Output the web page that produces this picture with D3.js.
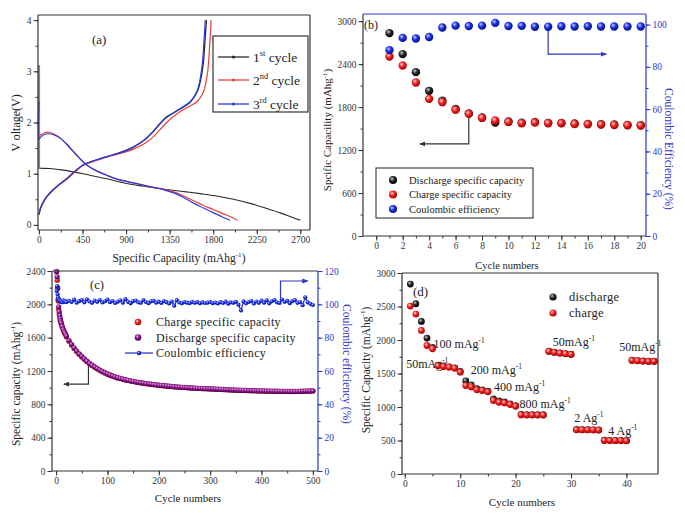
<!DOCTYPE html>
<html>
<head>
<meta charset="utf-8">
<script src="https://cdn.jsdelivr.net/npm/d3@7"></script>
<style>
  body { margin: 0; background: #fff; }
  svg { font-family: "Liberation Serif", "Times New Roman", serif; }
</style>
</head>
<body>
<svg id="fig" width="685" height="524"></svg>
<script>
// ---- panel (a): voltage profiles, [capacity mAh/g, voltage V]
const dis1 = [[0,3.12],[0,1.12],[5,1.11],[110,1.1],[250,1.07],[456,1.0],[700,0.9],[905,0.81],[1100,0.75],[1319,0.69],[1500,0.65],[1664,0.61],[1850,0.56],[2010,0.5],[2200,0.41],[2355,0.32],[2500,0.23],[2600,0.16],[2700,0.09]];
const chg1 = [[0,0.2],[20,0.34],[60,0.49],[110,0.61],[200,0.77],[283,0.89],[370,1.04],[456,1.17],[550,1.24],[628,1.29],[750,1.36],[905,1.46],[1000,1.55],[1100,1.68],[1181,1.83],[1250,1.98],[1319,2.11],[1400,2.2],[1480,2.29],[1560,2.39],[1635,2.6],[1672,2.85],[1700,3.2],[1715,3.6],[1730,4.0]];
const dis2 = [[0,1.72],[20,1.76],[60,1.8],[100,1.81],[150,1.78],[220,1.7],[283,1.59],[350,1.45],[420,1.3],[500,1.16],[600,1.05],[700,0.97],[800,0.9],[905,0.85],[1000,0.81],[1146,0.75],[1300,0.69],[1400,0.64],[1500,0.56],[1600,0.47],[1700,0.38],[1800,0.3],[1900,0.22],[2000,0.14],[2050,0.09]];
const chg2 = [[0,0.22],[20,0.36],[60,0.5],[110,0.62],[200,0.77],[283,0.88],[370,1.03],[456,1.16],[550,1.23],[628,1.28],[750,1.35],[905,1.43],[1000,1.5],[1100,1.6],[1181,1.72],[1250,1.86],[1319,2.0],[1400,2.13],[1480,2.24],[1560,2.32],[1640,2.42],[1700,2.6],[1740,2.95],[1760,3.4],[1778,4.0]];
const dis3 = [[0,2.4],[3,1.68],[20,1.72],[60,1.77],[100,1.78],[150,1.76],[220,1.69],[283,1.58],[350,1.44],[420,1.3],[500,1.16],[600,1.05],[700,0.97],[800,0.9],[905,0.85],[1000,0.81],[1146,0.75],[1300,0.68],[1400,0.62],[1500,0.53],[1600,0.42],[1700,0.33],[1800,0.24],[1900,0.15],[1975,0.09]];
const chg3 = [[0,0.2],[20,0.35],[60,0.5],[110,0.62],[200,0.78],[283,0.9],[370,1.05],[456,1.17],[550,1.24],[628,1.29],[750,1.36],[905,1.45],[1000,1.54],[1100,1.67],[1181,1.82],[1250,1.97],[1319,2.1],[1400,2.2],[1480,2.3],[1560,2.4],[1630,2.6],[1665,2.85],[1690,3.2],[1705,3.6],[1718,4.0]];
const aTicksX = [0,450,900,1350,1800,2250,2700];
const aTicksY = [0,1,2,3,4];

// ---- panel (b): first 20 cycles
const cycB = [1,2,3,4,5,6,7,8,9,10,11,12,13,14,15,16,17,18,19,20];
const disB = [2833,2540,2288,2027,1891,1775,1712,1655,1584,1598,1582,1593,1580,1578,1570,1566,1560,1556,1551,1546];
const chgB = [2506,2380,2143,1915,1869,1761,1705,1649,1612,1593,1575,1584,1575,1575,1565,1561,1556,1551,1547,1542];
const ceB = [87.9,93.7,93.4,94.1,98.6,99.5,99.3,99.5,100.8,99.3,99.4,99.0,99.0,99.2,99.1,99.2,99.1,99.1,99.1,99.1];
const bTicksX = [0,2,4,6,8,10,12,14,16,18,20];
const bTicksY = [0,600,1200,1800,2400,3000];
const bTicksR = [0,20,40,60,80,100];

// ---- panel (c): 500 cycles
const cycC = [1,2,3,4,5,6,7,8,9,10,12,14,16,18,20,
  25,30,35,40,45,50,55,60,65,70,75,80,85,90,95,100,
  105,110,115,120,125,130,135,140,145,150,
  155,160,165,170,175,180,185,190,195,200,
  205,210,215,220,225,230,235,240,245,250,
  255,260,265,270,275,280,285,290,295,300,
  305,310,315,320,325,330,335,340,345,350,
  355,360,365,370,375,380,385,390,395,400,
  405,410,415,420,425,430,435,440,445,450,
  455,460,465,470,475,480,485,490,495,500];
const disC = [2395,2330,2190,2060,1970,1910,1865,1830,1800,1775,1735,1700,1670,1645,1620,
  1565,1520,1478,1440,1405,1375,1345,1318,1292,1270,1250,1230,1212,1196,1180,1166,
  1153,1142,1130,1120,1112,1103,1096,1089,1082,1076,
  1070,1065,1060,1055,1050,1046,1042,1038,1034,1030,
  1027,1024,1021,1018,1015,1012,1010,1007,1005,1003,
  1001,999,997,995,993,992,990,989,988,986,
  985,983,982,980,979,977,976,974,973,971,
  970,969,968,967,966,965,964,963,962,962,
  961,960,960,959,958,958,957,957,956,956,
  955,955,955,956,957,958,959,960,961,962];
const chgC = [2390,2290,2200,2040,1940,1880,1850,1810,1790,1760,1725,1690,1660,1640,1612,
  1558,1512,1470,1433,1400,1368,1340,1312,1288,1265,1246,1226,1208,1192,1177,1162,
  1150,1138,1127,1117,1109,1100,1093,1086,1080,1074,
  1068,1062,1058,1052,1048,1044,1040,1036,1032,1028,
  1025,1022,1019,1016,1013,1010,1008,1005,1003,1001,
  999,997,995,993,991,990,988,987,986,984,
  983,981,980,978,977,975,974,972,971,969,
  968,967,966,965,964,963,962,961,960,960,
  959,958,958,957,956,956,955,955,954,954,
  953,953,953,954,955,956,957,958,959,960];
const ceC = [108,111,106,104,103,102.5,101.8,102.2,101.5,101.9,101.2,102.4,101.6,102.0,101.3,
  102.1,101.4,102.8,101.0,101.9,102.5,101.2,103.0,101.7,100.9,102.2,101.5,102.6,101.1,101.8,102.9,
  101.3,102.0,100.8,101.6,102.4,101.0,103.1,101.5,100.6,101.9,
  102.3,101.2,100.9,102.6,101.4,100.7,101.8,102.1,101.0,101.6,
  100.8,102.0,101.3,100.5,101.7,99.2,102.5,101.1,100.6,101.4,
  101.0,100.7,101.5,100.9,101.3,100.6,101.2,100.8,101.0,101.4,
  100.7,101.1,100.5,101.3,100.8,101.6,100.4,101.2,100.9,101.5,
  99.8,96.3,101.8,100.6,101.4,102.0,100.5,101.7,100.9,102.2,
  101.0,102.4,100.6,101.8,102.6,101.2,100.8,102.9,101.5,102.1,
  100.7,101.9,102.5,100.9,101.4,99.5,104.2,101.2,100.3,99.6];
const cTicksX = [0,100,200,300,400,500];
const cTicksY = [0,400,800,1200,1600,2000,2400];
const cTicksR = [0,20,40,60,80,100,120];

// ---- panel (d): rate capability
const cycD = [1,2,3,4,5,6,7,8,9,10,11,12,13,14,15,16,17,18,19,20,21,22,23,24,25,26,27,28,29,30,31,32,33,34,35,36,37,38,39,40,41,42,43,44,45];
const chgD = [2506,2387,2143,1918,1868,1614,1604,1594,1579,1520,1320,1300,1256,1246,1226,1096,1071,1061,1036,1011,882,880,880,880,880,1829,1814,1804,1794,1784,660,658,658,658,655,500,498,498,498,495,1695,1690,1685,1680,1680];
const disD = [2835,2541,2277,2028,1890,1625,1612,1600,1585,1530,1390,1330,1275,1255,1235,1121,1090,1075,1048,1020,890,886,885,884,884,1835,1818,1808,1797,1788,665,662,661,660,658,505,502,500,500,498,1700,1693,1688,1684,1683];
const rateLabels = [
  {t:"50mAg", c:0.25, v:1585}, {t:"100 mAg", c:5.2, v:1883}, {t:"200 mAg", c:11.9, v:1495},
  {t:"400 mAg", c:16.1, v:1240}, {t:"800 mAg", c:20.7, v:987}, {t:"50mAg", c:26.7, v:1913},
  {t:"2 Ag", c:30.6, v:777}, {t:"4 Ag", c:36.7, v:583}, {t:"50mAg", c:38.7, v:1839}
];
const dTicksX = [0,10,20,30,40];
const dTicksY = [0,500,1000,1500,2000,2500,3000];

const BLUE = "#2c36c8";
const SERIF = "Liberation Serif";

const svg = d3.select("#fig");
const defs = svg.append("defs");

// shaded balls like the origin markers
function ball(id, hi, mid, lo) {
  const g = defs.append("radialGradient").attr("id", id)
    .attr("cx", "38%").attr("cy", "35%").attr("r", "65%");
  g.append("stop").attr("offset", "0%").attr("stop-color", hi);
  g.append("stop").attr("offset", "45%").attr("stop-color", mid);
  g.append("stop").attr("offset", "100%").attr("stop-color", lo);
}
ball("gBlack", "#d0d0d0", "#2a2a2a", "#000");
ball("gRed", "#ffd6d6", "#f02424", "#a80000");
ball("gBlue", "#c8ceff", "#1f33e6", "#00108a");
ball("gPurple", "#e8a8e8", "#8c1a8c", "#4a0052");

function arrowHead(id, color) {
  defs.append("marker").attr("id", id).attr("viewBox", "0 0 10 10")
    .attr("refX", 9).attr("refY", 5).attr("markerWidth", 5).attr("markerHeight", 5)
    .attr("orient", "auto")
    .append("path").attr("d", "M0,1L10,5L0,9z").attr("fill", color);
}
arrowHead("arK", "#333");
arrowHead("arB", BLUE);

// axis ticks (major with labels + minor), domain line removed
function ticks(scale, side, pos, major, minorStep, color) {
  const mk = side === "bottom" ? d3.axisBottom : side === "left" ? d3.axisLeft : d3.axisRight;
  const tr = side === "bottom" ? `translate(0,${pos})` : `translate(${pos},0)`;
  const [lo, hi] = [major[0], major[major.length - 1]];
  const minor = d3.range(lo, hi + minorStep / 2, minorStep);
  const gm = svg.append("g").attr("transform", tr)
    .call(mk(scale).tickValues(minor).tickSize(2.5).tickFormat(""));
  const gM = svg.append("g").attr("transform", tr)
    .call(mk(scale).tickValues(major).tickSize(4.5).tickPadding(2).tickFormat(d => d));
  [gm, gM].forEach(a => {
    a.select(".domain").remove();
    a.selectAll("line").attr("stroke", color).attr("stroke-width", 1);
  });
  gM.attr("font-family", SERIF).attr("font-size", 9.5);
  gM.selectAll("text").attr("fill", color);
}

function spines(p, topC, rightC) {
  const s = [[p.l, p.b, p.r, p.b, "#333"], [p.l, p.t, p.l, p.b, "#333"],
             [p.l, p.t, p.r, p.t, topC], [p.r, p.t, p.r, p.b, rightC]];
  s.forEach(d => svg.append("line")
    .attr("x1", d[0]).attr("y1", d[1]).attr("x2", d[2]).attr("y2", d[3])
    .attr("stroke", d[4]).attr("stroke-width", 1.2));
}

// text with superscripts: parts are strings or {sup:"..."}
function rich(x, y, parts, o) {
  const size = o.size || 11;
  const t = svg.append("text").attr("x", x).attr("y", y)
    .attr("font-size", size).attr("fill", o.color || "#222")
    .attr("text-anchor", o.anchor || "middle");
  if (o.rot) t.attr("transform", `rotate(${o.rot},${x},${y})`);
  let shift = 0;
  parts.forEach(p => {
    if (typeof p === "string") {
      t.append("tspan").attr("dy", -shift).text(p);
      shift = 0;
    } else {
      const up = size * 0.4;
      t.append("tspan").attr("dy", -up).attr("font-size", size * 0.62).text(p.sup);
      shift = -up;
    }
  });
  return t;
}

function balls(data, x, y, r, fill) {
  svg.append("g").selectAll("circle").data(data).join("circle")
    .attr("cx", d => x(d[0])).attr("cy", d => y(d[1])).attr("r", r)
    .attr("fill", `url(#${fill})`);
}

function elbow(pts, color, marker) {
  svg.append("path").attr("d", d3.line()(pts)).attr("fill", "none")
    .attr("stroke", color).attr("stroke-width", 1.2)
    .attr("marker-end", `url(#${marker})`);
}

// =============== (a) ===============
{
  const p = {l: 38, r: 310, t: 15, b: 230};
  const x = d3.scaleLinear().domain([-10, 2800]).range([p.l, p.r]);
  const y = d3.scaleLinear().domain([-0.1, 4.1]).range([p.b, p.t]);
  ticks(x, "bottom", p.b, aTicksX, 225, "#333");
  ticks(y, "left", p.l, aTicksY, 0.5, "#333");

  const line = d3.line().x(d => x(d[0])).y(d => y(d[1])).curve(d3.curveCatmullRom.alpha(0.5));
  const curves = [[dis1, "#8a8a8a", 2.2, 2], [dis1.slice(1), "#2a2a2a", 1.1], [chg1, "#2a2a2a", 1.3],
                  [dis2, "#e8403a", 1.2], [chg2, "#e8403a", 1.2],
                  [dis3, "#2a3de0", 1.2], [chg3, "#2a3de0", 1.2]];
  curves.forEach(c => svg.append("path").attr("d", line(c[0].slice(0, c[3] || c[0].length)))
    .attr("fill", "none").attr("stroke", c[1]).attr("stroke-width", c[2]));
  spines(p, "#333", "#333");

  rich(20, 123, ["V oltage(V)"], {size: 12, rot: -90});
  rich(179, 262, ["Specific Capacility (mAhg", {sup: "-1"}, ")"], {size: 11.5});
  rich(92, 44, ["(a)"], {size: 13, anchor: "start"});

  // legend
  svg.append("rect").attr("x", 213).attr("y", 36).attr("width", 95).attr("height", 76)
    .attr("fill", "#fff").attr("stroke", "#333").attr("stroke-width", 1.2);
  [["1", "st", "#2a2a2a", 57], ["2", "nd", "#e8403a", 80], ["3", "rd", "#2a3de0", 104]].forEach(l => {
    svg.append("line").attr("x1", 218).attr("x2", 249).attr("y1", l[3]).attr("y2", l[3])
      .attr("stroke", l[2]).attr("stroke-width", 1.3);
    svg.append("circle").attr("cx", 233.5).attr("cy", l[3]).attr("r", 1.6).attr("fill", l[2]);
    rich(253, l[3] + 4.5, [l[0], {sup: l[1]}, " cycle"], {size: 13.5, anchor: "start"});
  });
}

// =============== (b) ===============
{
  const p = {l: 363, r: 646, t: 14, b: 236};
  const x = d3.scaleLinear().domain([-1, 20.4]).range([p.l, p.r]);
  const y = d3.scaleLinear().domain([0, 3100]).range([p.b, p.t]);
  const yr = d3.scaleLinear().domain([0, 105]).range([p.b, p.t]);
  ticks(x, "bottom", p.b, bTicksX, 1, "#333");
  ticks(y, "left", p.l, bTicksY, 300, "#333");
  ticks(yr, "right", p.r, bTicksR, 10, BLUE);
  spines(p, BLUE, BLUE);

  elbow([[x(7), y(1705)], [x(7), y(1286)], [x(3.3), y(1286)]], "#333", "arK");
  elbow([[x(13), yr(99)], [x(13), yr(86)], [x(17.4), yr(86)]], BLUE, "arB");

  balls(cycB.map((c, i) => [c, disB[i]]), x, y, 4.2, "gBlack");
  balls(cycB.map((c, i) => [c, chgB[i]]), x, y, 4.2, "gRed");
  balls(cycB.map((c, i) => [c, ceB[i]]), x, yr, 4.2, "gBlue");

  rich(331, 130, ["Spcific Capacility (mAhg", {sup: "-1"}, ")"], {size: 11, rot: -90});
  rich(665, 149, ["Coulombic Efficiency (%)"], {size: 11.5, rot: 90, color: BLUE});
  rich(507, 269, ["Cycle numbers"], {size: 10.5});
  rich(364, 29, ["(b)"], {size: 12, anchor: "start"});

  svg.append("rect").attr("x", 376).attr("y", 168).attr("width", 157).attr("height", 50)
    .attr("fill", "none").attr("stroke", "#333").attr("stroke-width", 1.1);
  [["gBlack", "Discharge specific capacity", 180], ["gRed", "Charge specific capacity", 194.5],
   ["gBlue", "Coulombic efficiency", 209]].forEach(l => {
    svg.append("circle").attr("cx", 393).attr("cy", l[2]).attr("r", 4).attr("fill", `url(#${l[0]})`);
    rich(409, l[2] + 3.5, [l[1]], {size: 10.5, anchor: "start"});
  });
}

// =============== (c) ===============
{
  const p = {l: 52, r: 318, t: 271, b: 471};
  const x = d3.scaleLinear().domain([-8, 510]).range([p.l, p.r]);
  const y = d3.scaleLinear().domain([0, 2400]).range([p.b, p.t]);
  const yr = d3.scaleLinear().domain([0, 120]).range([p.b, p.t]);
  ticks(x, "bottom", p.b, cTicksX, 50, "#333");
  ticks(y, "left", p.l, cTicksY, 200, "#333");
  ticks(yr, "right", p.r, cTicksR, 10, BLUE);

  elbow([[x(63), y(1310)], [x(63), y(1042)], [x(15), y(1042)]], "#333", "arK");
  elbow([[x(437), yr(101)], [x(437), yr(114)], [x(490), yr(114)]], BLUE, "arB");

  balls(cycC.map((c, i) => [c, chgC[i]]), x, y, 2.6, "gRed");
  balls(cycC.map((c, i) => [c, disC[i]]), x, y, 2.6, "gPurple");
  const ce = cycC.map((c, i) => [c, ceC[i]]);
  svg.append("path").attr("d", d3.line().x(d => x(d[0])).y(d => yr(d[1]))(ce))
    .attr("fill", "none").attr("stroke", BLUE).attr("stroke-width", 1.3);
  balls(ce, x, yr, 2.1, "gBlue");
  spines(p, "#333", BLUE);

  rich(20, 384, ["Specific capacity (mAhg", {sup: "-1"}, ")"], {size: 11.5, rot: -90});
  rich(343, 364, ["Coulombic efficiency (%)"], {size: 11.5, rot: 90, color: BLUE});
  rich(188, 502, ["Cycle  numbers"], {size: 11});
  rich(90, 289, ["(c)"], {size: 12.5, anchor: "start"});

  svg.append("circle").attr("cx", 138).attr("cy", 322).attr("r", 3.3).attr("fill", "url(#gRed)");
  svg.append("circle").attr("cx", 138).attr("cy", 337.5).attr("r", 3.3).attr("fill", "url(#gPurple)");
  svg.append("line").attr("x1", 125).attr("x2", 153).attr("y1", 353).attr("y2", 353)
    .attr("stroke", BLUE).attr("stroke-width", 1.3);
  svg.append("circle").attr("cx", 139).attr("cy", 353).attr("r", 2.2).attr("fill", "url(#gBlue)");
  rich(156, 326, ["Charge specific capacity"], {size: 12, anchor: "start"}).attr("letter-spacing", 0.3);
  rich(156, 341.5, ["Discharge specific capacity"], {size: 12, anchor: "start"}).attr("letter-spacing", 0.3);
  rich(156, 357, ["Coulombic efficiency"], {size: 12, anchor: "start"}).attr("letter-spacing", 0.3);
}

// =============== (d) ===============
{
  const p = {l: 402, r: 658, t: 273, b: 474};
  const x = d3.scaleLinear().domain([-0.5, 45.7]).range([p.l, p.r]);
  const y = d3.scaleLinear().domain([0, 3000]).range([p.b, p.t]);
  ticks(x, "bottom", p.b, dTicksX, 5, "#333");
  ticks(y, "left", p.l, dTicksY, 250, "#333");
  spines(p, "#333", "#333");

  rateLabels.forEach(l => rich(x(l.c), y(l.v), [l.t, {sup: "-1"}], {size: 12, anchor: "start"}));

  balls(cycD.map((c, i) => [c, disD[i]]), x, y, 3.4, "gBlack");
  balls(cycD.map((c, i) => [c, chgD[i]]), x, y, 3.4, "gRed");

  rich(370, 370, ["Specific Capacity (mAhg", {sup: "-1"}, ")"], {size: 11.5, rot: -90});
  rich(522, 506, ["Cycle numbers"], {size: 11});
  rich(413, 296, ["(d)"], {size: 13, anchor: "start"});

  svg.append("circle").attr("cx", 553).attr("cy", 297).attr("r", 3.6).attr("fill", "url(#gBlack)");
  svg.append("circle").attr("cx", 553).attr("cy", 313).attr("r", 3.6).attr("fill", "url(#gRed)");
  rich(569, 301, ["discharge"], {size: 12.5, anchor: "start"}).attr("letter-spacing", 0.3);
  rich(569, 317, ["charge"], {size: 12.5, anchor: "start"}).attr("letter-spacing", 0.3);
}
</script>
</body>
</html>
